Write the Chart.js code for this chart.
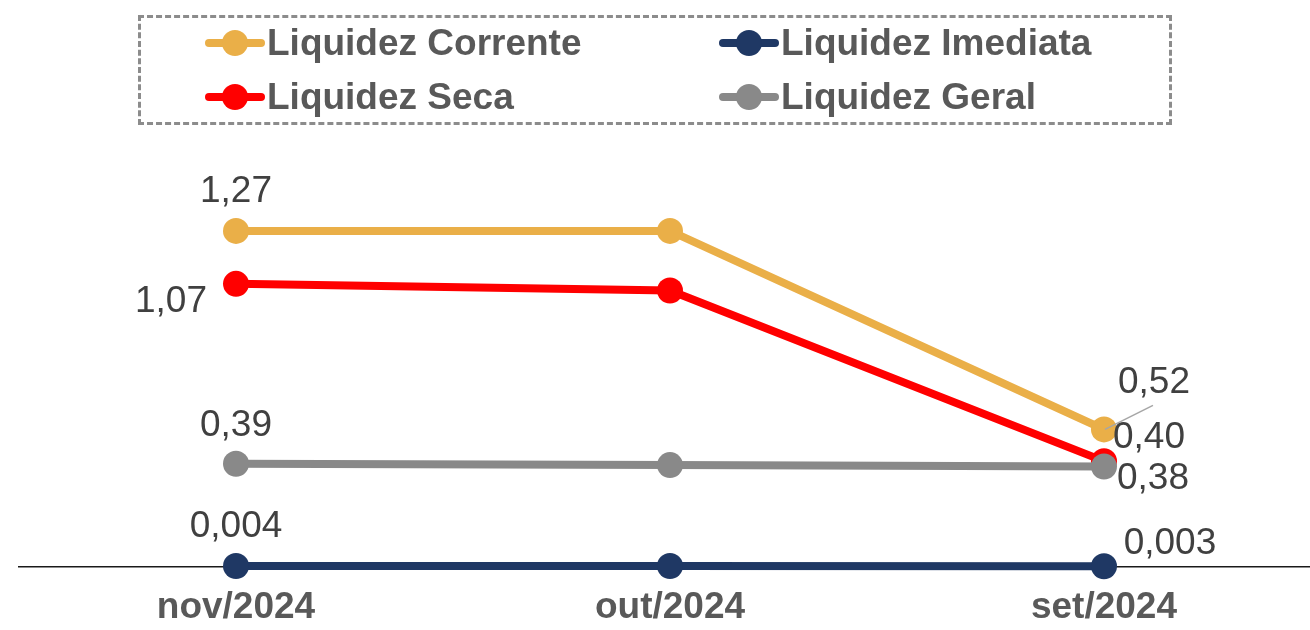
<!DOCTYPE html>
<html>
<head>
<meta charset="utf-8">
<script src="https://cdn.jsdelivr.net/npm/chart.js"></script>
<style>
html, body { margin: 0; padding: 0; background: #fff; overflow: hidden; font-family: "Liberation Sans", Arial, sans-serif; }
#wrap { position: relative; width: 1310px; height: 630px; overflow: hidden; }
#chart { display: block; }
#legend { position: absolute; left: 138px; top: 15px; width: 1028px; height: 104px; border: 3px dashed #8c8c8c; }
.item { position: absolute; height: 40px; display: flex; align-items: center; font-weight: bold; font-size: 37px; color: #595959; white-space: nowrap; }
.mark { position: relative; width: 60px; height: 30px; margin-right: 2px; }
.mark .ln { position: absolute; left: 0; right: 0; top: 11px; height: 8px; border-radius: 4px; }
.mark .dot { position: absolute; left: 17px; top: 2px; width: 26px; height: 26px; border-radius: 50%; }
</style>
</head>
<body>
<div id="wrap">
  <canvas id="chart" width="1310" height="630"></canvas>
  <div id="legend"></div>
</div>
<script>
// Dados
const categories = ['nov/2024', 'out/2024', 'set/2024'];
const seriesNames = ['Liquidez Corrente', 'Liquidez Imediata', 'Liquidez Seca', 'Liquidez Geral'];
const corrente = [1.27, 1.27, 0.52];
const imediata = [0.004, 0.004, 0.003];
const seca = [1.07, 1.045, 0.40];
const geral = [0.39, 0.385, 0.38];
const decimals = [2, 3, 2, 2];

const colors = ['#EAAF48', '#1F3864', '#FF0000', '#898989'];
const drawOrder = [2, 3, 1, 0];

// posição dos rótulos (dx, dy) relativa ao ponto; null = sem rótulo
const labelOffsets = [
    [[0, -39], null, [50, -47]],
    [[0, -39], null, [66, -22]],
    [[-65, 18], null, [45, -23]],
    [[0, -38], null, [49, 12]]
];

const allSeries = [corrente, imediata, seca, geral];

// Legenda
const legendEl = document.getElementById('legend');
const legendPos = [[64, 5], [578, 5], [64, 59], [578, 59]];
seriesNames.forEach((name, i) => {
    const item = document.createElement('div');
    item.className = 'item';
    item.style.left = legendPos[i][0] + 'px';
    item.style.top = legendPos[i][1] + 'px';
    item.innerHTML = '<span class="mark"><span class="ln" style="background:' + colors[i] + '"></span>' +
        '<span class="dot" style="background:' + colors[i] + '"></span></span><span>' + name + '</span>';
    legendEl.appendChild(item);
});

const fmt = (v, d) => v.toFixed(d).replace('.', ',');

const valueLabels = {
    id: 'valueLabels',
    afterDatasetsDraw(chart) {
        const ctx = chart.ctx;
        ctx.save();
        ctx.font = '37px "Liberation Sans", Arial, sans-serif';
        ctx.fillStyle = '#404040';
        ctx.textAlign = 'center';
        ctx.textBaseline = 'middle';
        chart.data.datasets.forEach((ds, i) => {
            const meta = chart.getDatasetMeta(i);
            labelOffsets[i].forEach((off, j) => {
                if (!off) return;
                const pt = meta.data[j];
                ctx.fillText(fmt(allSeries[i][j], decimals[i]), pt.x + off[0], pt.y + off[1]);
            });
        });
        // linha guia do 0,52
        const p = chart.getDatasetMeta(0).data[2];
        ctx.strokeStyle = '#a6a6a6';
        ctx.lineWidth = 1.5;
        ctx.beginPath();
        ctx.moveTo(p.x + 1, p.y);
        ctx.lineTo(p.x + 49, p.y - 24);
        ctx.stroke();
        ctx.restore();
    }
};

const ctx = document.getElementById('chart').getContext('2d');
const chart = new Chart(ctx, {
    type: 'line',
    data: {
        datasets: allSeries.map((vals, i) => ({
            label: seriesNames[i],
            data: vals.map((v, j) => ({ x: j, y: v })),
            borderColor: colors[i],
            backgroundColor: colors[i],
            borderWidth: 8,
            pointRadius: 13,
            pointHoverRadius: 13,
            pointBorderWidth: 0,
            order: drawOrder[i],
            clip: false,
            fill: false
        }))
    },
    options: {
        responsive: false,
        animation: false,
        layout: { autoPadding: false, padding: { top: 143.6, left: 19, right: 0, bottom: 0 } },
        plugins: {
            legend: { display: false },
            tooltip: { enabled: false }
        },
        scales: {
            x: {
                type: 'linear',
                min: -0.5,
                max: 2.4747,
                afterBuildTicks: (axis) => { axis.ticks = categories.map((c, i) => ({ value: i })); },
                afterFit: (axis) => { axis.height = 63; axis.paddingLeft = 0; axis.paddingRight = 0; },
                ticks: {
                    callback: (v) => categories[v],
                    font: { size: 37, weight: 'bold', family: '"Liberation Sans", Arial, sans-serif' },
                    color: '#595959',
                    padding: 19,
                    maxRotation: 0
                },
                grid: { display: false, drawTicks: false },
                border: { display: true, color: '#1a1a1a', width: 1.5 }
            },
            y: {
                display: false,
                min: 0,
                max: 1.6
            }
        }
    },
    plugins: [valueLabels]
});
</script>
</body>
</html>
